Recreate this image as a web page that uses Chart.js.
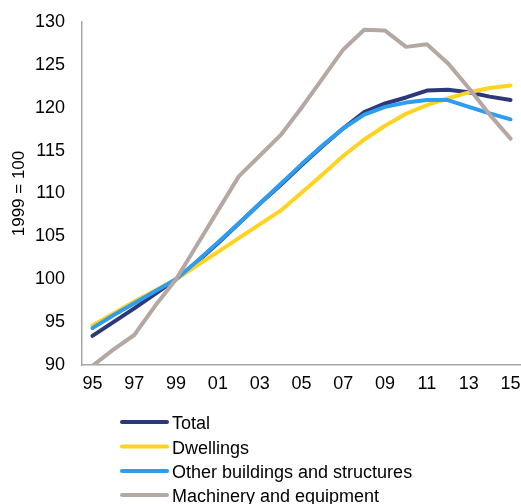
<!DOCTYPE html>
<html>
<head>
<meta charset="utf-8">
<script src="https://cdn.jsdelivr.net/npm/chart.js@4/dist/chart.umd.min.js"></script>
<style>
html,body{margin:0;padding:0;background:#fff;}
#wrap{width:521px;height:504px;position:relative;}
</style>
</head>
<body>
<div id="wrap"><canvas id="c" width="521" height="504"></canvas></div>
<script>
const years = ["95","96","97","98","99","00","01","02","03","04","05","06","07","08","09","10","11","12","13","14","15"];
const total = [93.4,95.0,96.6,98.3,100,102.0,104.2,106.5,108.8,111.0,113.3,115.5,117.6,119.5,120.5,121.2,122.0,122.1,121.8,121.3,120.9];
const dwellings = [94.6,96.0,97.4,98.7,100,101.6,103.2,104.8,106.4,108.0,110.1,112.2,114.4,116.3,117.9,119.3,120.3,121.1,121.8,122.3,122.6];
const otherBuildings = [94.3,95.8,97.2,98.6,100,102.1,104.3,106.5,108.8,111.1,113.4,115.6,117.6,119.2,120.1,120.6,120.9,120.9,120.1,119.35,118.65];
const machinery = [89.9,91.8,93.5,96.9,100,104.0,108.0,112.0,114.4,116.8,120.0,123.4,126.8,129.1,129.0,127.1,127.4,125.2,122.3,119.2,116.4];
const yTicks = [90,95,100,105,110,115,120,125,130];
const yTitle = "1999 = 100";
const names = ["Total","Dwellings","Other buildings and structures","Machinery and equipment"];

const FONT = "'Liberation Sans', Arial, sans-serif";

const legendPlugin = {
  id: 'customLegend',
  afterDraw(chart) {
    const ctx = chart.ctx;
    ctx.save();
    const x0 = 122, x1 = 167, tx = 172;
    const ys = [422, 446.5, 471, 495];
    chart.data.datasets.forEach((ds, i) => {
      const y = ys[i];
      ctx.strokeStyle = ds.borderColor;
      ctx.lineWidth = 4;
      ctx.lineCap = 'round';
      ctx.beginPath();
      ctx.moveTo(x0, y);
      ctx.lineTo(x1, y);
      ctx.stroke();
      ctx.fillStyle = '#000';
      ctx.font = "18px " + FONT;
      ctx.textBaseline = 'alphabetic';
      ctx.textAlign = 'left';
      ctx.fillText(ds.label, tx, y + 7);
    });
    ctx.restore();
  }
};

const mk = (label, data, color, order) => ({
  label, data, borderColor: color, backgroundColor: color, borderWidth: 4,
  pointRadius: 0, tension: 0, borderCapStyle: 'round', borderJoinStyle: 'round', order, fill: false
});

new Chart(document.getElementById('c'), {
  type: 'line',
  data: {
    labels: years,
    datasets: [
      mk(names[0], total, '#2c3877', 3),
      mk(names[1], dwellings, '#ffd31f', 2),
      mk(names[2], otherBuildings, '#2e9cf0', 1),
      mk(names[3], machinery, '#b4a9a2', 0)
    ]
  },
  options: {
    responsive: false,
    animation: false,
    devicePixelRatio: 1,
    layout: { padding: { left: 0, right: 0, top: 22, bottom: 0 } },
    plugins: { legend: { display: false }, tooltip: { enabled: false } },
    scales: {
      x: {
        offset: true,
        grid: { display: false, drawTicks: false },
        border: { display: true, color: '#a6a6a6', width: 1.5 },
        ticks: {
          color: '#000', font: { size: 18, family: FONT }, padding: 8,
          autoSkip: false, maxRotation: 0,
          callback: function(v, i) { return i % 2 === 0 ? years[i] : ''; }
        },
        afterFit(s) { s.height = 139; s.paddingLeft = 0; s.paddingRight = 0; }
      },
      y: {
        min: 90, max: 130,
        afterBuildTicks(s) { s.ticks = yTicks.map(v => ({ value: v })); },
        grid: { display: false, drawTicks: false },
        border: { display: true, color: '#a6a6a6', width: 1.5 },
        ticks: { color: '#000', font: { size: 18, family: FONT }, padding: 17 },
        title: { display: true, text: yTitle, color: '#000', font: { size: 17, family: FONT }, padding: { top: 9, bottom: 0 } },
        afterFit(s) { s.width = 82; s.paddingTop = 0; s.paddingBottom = 0; }
      }
    }
  },
  plugins: [legendPlugin]
});
</script>
</body>
</html>
